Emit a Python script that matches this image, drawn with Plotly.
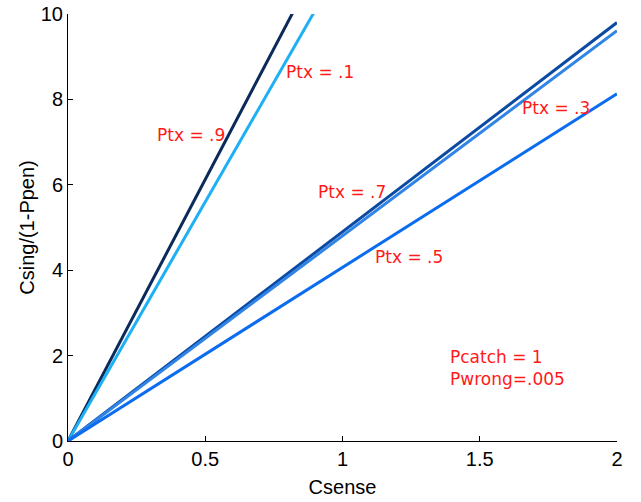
import plotly.graph_objects as go

csense = [0, 2]
ptx_labels = ["Ptx = .9", "Ptx = .1", "Ptx = .7", "Ptx = .3", "Ptx = .5"]
csing_end = [24.5, 22.4, 9.80, 9.61, 8.13]
colors = ["#0a2a5c", "#1eb0f5", "#0a4aa2", "#3084e6", "#0b6cf0"]

label_x = [0.317, 0.787, 0.903, 1.647, 1.111]
label_y = [7.17, 8.64, 5.83, 7.80, 4.31]

fig = go.Figure()
for lab, yend, c in zip(ptx_labels, csing_end, colors):
    fig.add_trace(go.Scatter(x=csense, y=[0, yend], mode="lines",
                             line=dict(color=c, width=3), name=lab, showlegend=False))

red_font = dict(family="DejaVu Sans", size=17, color="#ff1a1a")
for lab, lx, ly in zip(ptx_labels, label_x, label_y):
    fig.add_annotation(x=lx, y=ly, text=lab, showarrow=False, xanchor="left", yanchor="middle",
                       font=red_font)
fig.add_annotation(x=1.384, y=1.97, text="Pcatch = 1", showarrow=False, xanchor="left", yanchor="middle",
                   font=red_font)
fig.add_annotation(x=1.384, y=1.45, text="Pwrong=.005", showarrow=False, xanchor="left", yanchor="middle",
                   font=red_font)

axis_common = dict(showgrid=False, zeroline=False, showline=True, linecolor="black", linewidth=1,
                   ticks="inside", ticklen=5, tickcolor="black", automargin=False,
                   tickfont=dict(family="Liberation Sans", size=20, color="black"))
fig.update_xaxes(range=[0, 2], tickvals=[0, 0.5, 1, 1.5, 2], ticktext=["0", "0.5", "1", "1.5", "2"],
                 title=dict(text="Csense", font=dict(family="Liberation Sans", size=20, color="black"), standoff=10),
                 **axis_common)
fig.update_yaxes(range=[0, 10], tickvals=[0, 2, 4, 6, 8, 10], ticktext=["0", "2", "4", "6", "8", "10"],
                 title=dict(text="Csing/(1-Ppen)", font=dict(family="Liberation Sans", size=20, color="black"), standoff=0),
                 **axis_common)
fig.update_layout(width=641, height=502, margin=dict(l=68, r=24, t=14, b=61),
                  plot_bgcolor="white", paper_bgcolor="white")
fig.write_html("out.html")
